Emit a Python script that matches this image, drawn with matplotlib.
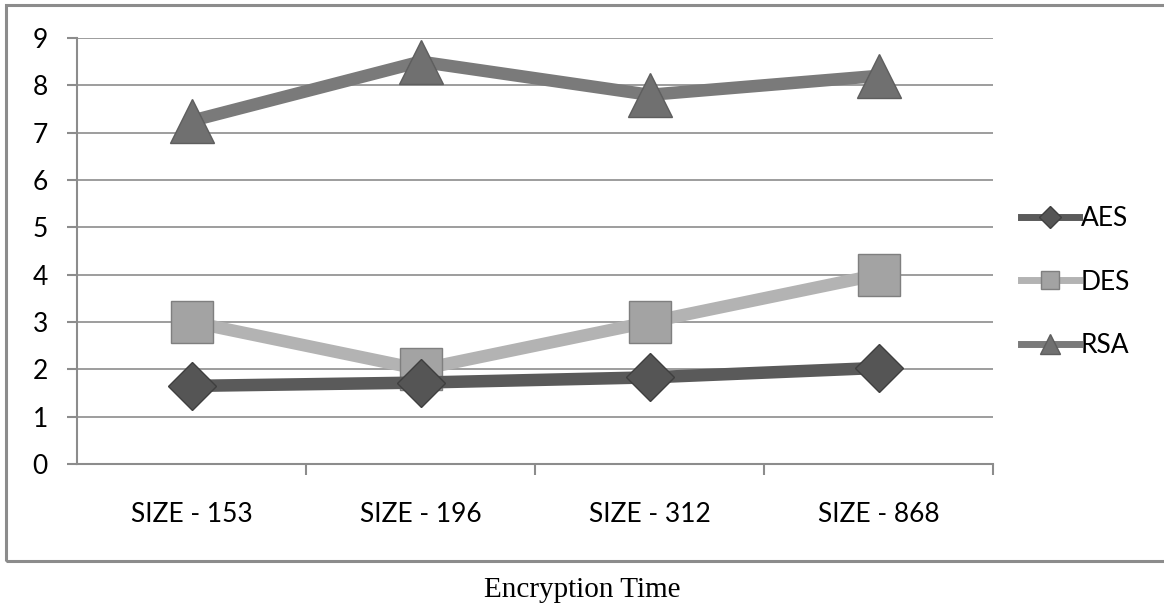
import matplotlib
matplotlib.use("Agg")
import matplotlib.pyplot as plt
from matplotlib.patches import Rectangle
from matplotlib.ticker import FixedLocator

categories = ["SIZE - 153", "SIZE - 196", "SIZE - 312", "SIZE - 868"]
aes = [1.65, 1.72, 1.83, 2.03]
des = [3.0, 2.0, 3.0, 4.0]
rsa = [7.25, 8.5, 7.8, 8.2]
yticks = [0, 1, 2, 3, 4, 5, 6, 7, 8, 9]
title = "Encryption Time"

fig = plt.figure(figsize=(11.64, 6.12), dpi=100)
fig.patch.set_facecolor("white")

# outer chart frame
fig.patches.append(Rectangle((6 / 1164, 1 - 561 / 612), 1.2, (561 - 5) / 612,
                             transform=fig.transFigure, fill=False,
                             edgecolor="#8c8c8c", linewidth=2.2, zorder=0))

ax = fig.add_axes([77 / 1164, 1 - 464 / 612, (993 - 77) / 1164, (464 - 38) / 612])
x = list(range(len(categories)))

grid_c = "#8c8c8c"
tick_font = "Lato"
fs = 19

ax.plot(x, rsa, color="#7a7a7a", linewidth=9, marker="^", markersize=31,
        markerfacecolor="#707070", markeredgecolor="#5e5e5e", markeredgewidth=1,
        label="RSA", zorder=3, solid_joinstyle="round")
ax.plot(x, des, color="#b3b3b3", linewidth=9, marker="s", markersize=30,
        markerfacecolor="#a3a3a3", markeredgecolor="#7f7f7f", markeredgewidth=1,
        label="DES", zorder=4)
ax.plot(x, aes, color="#5a5a5a", linewidth=9, marker="D", markersize=24,
        markerfacecolor="#555555", markeredgecolor="#3f3f3f", markeredgewidth=1,
        label="AES", zorder=5)

ax.set_xlim(-0.5, len(categories) - 0.5)
ax.set_ylim(0, 9)
ax.set_yticks(yticks)
ax.set_yticklabels([str(v) for v in yticks], fontsize=fs, family=tick_font)
ax.set_xticks(x)
ax.set_xticklabels(categories, fontsize=fs, family=tick_font)
ax.xaxis.set_minor_locator(FixedLocator([0.5, 1.5, 2.5, 3.5]))
ax.tick_params(axis="x", which="major", length=0, pad=27)
ax.tick_params(axis="x", which="minor", length=8, color=grid_c, width=1.5)
ax.tick_params(axis="y", length=7, color=grid_c, width=1.5, pad=14)

ax.grid(axis="y", color=grid_c, linewidth=1.2)
ax.set_axisbelow(True)
for s in ["top", "right"]:
    ax.spines[s].set_visible(False)
for s in ["left", "bottom"]:
    ax.spines[s].set_color(grid_c)
    ax.spines[s].set_linewidth(1.5)

handles, labels = ax.get_legend_handles_labels()
order = [2, 1, 0]
leg = ax.legend([handles[i] for i in order], [labels[i] for i in order],
                loc="center left", bbox_to_anchor=(1.005, 0.427), frameon=False,
                prop={"family": tick_font, "size": fs}, handlelength=2.2,
                labelspacing=1.45, handletextpad=0.05, markerscale=0.45)
for line in leg.get_lines():
    line.set_linewidth(5)

fig.text(0.5, 1 - 590 / 612, title, ha="center", va="center",
         fontsize=21, family="Liberation Serif", color="black")

fig.savefig("out.png", dpi=100, facecolor="white")
